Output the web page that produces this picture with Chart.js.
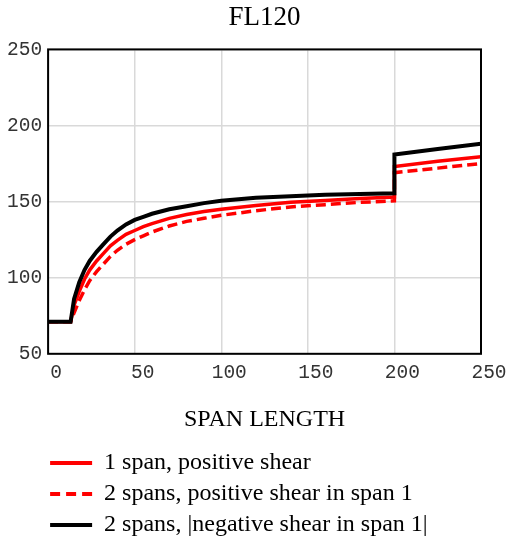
<!DOCTYPE html>
<html>
<head>
<meta charset="utf-8">
<script src="https://cdn.jsdelivr.net/npm/chart.js@4/dist/chart.umd.min.js"></script>
<style>
  html, body { margin: 0; padding: 0; background: #fff; }
  #wrap { width: 506px; height: 542px; }
</style>
</head>
<body>
<div id="wrap"><canvas id="c"></canvas></div>
<script>
// span length (x), shared by all three curves
const spanLength = [0, 5, 10, 13, 15, 18, 21, 24, 28, 32, 36, 40, 45, 50, 55, 60, 70, 80, 90, 100, 120, 140, 160, 180, 200, 200, 225, 250];

const oneSpanPos =  [71, 71, 71, 71, 82, 91, 99, 105, 111, 116, 121, 124.5, 128.5, 131, 133.5, 135.5, 139, 141.5, 143.5, 145, 147.5, 149.5, 150.8, 152, 153, 173, 176.5, 179.5];
const twoSpanPos =  [71, 71, 71, 71, 77, 85, 92, 98, 104, 109, 114, 118, 122, 125, 127.5, 130, 134, 137, 139, 141, 144, 146.5, 148, 149.5, 150.5, 169, 172, 175];
const twoSpanNeg =  [71, 71, 71, 71, 86, 97, 105, 111, 117, 122, 127, 131, 135, 138, 140, 142, 145, 147, 149, 150.5, 152.5, 153.5, 154.5, 155, 155.5, 181, 184.5, 188];

const seriesNames = ['1 span, positive shear', '2 spans, positive shear in span 1', '2 spans, |negative shear in span 1|'];
const xTicks = [0, 50, 100, 150, 200, 250];
const yTicks = [50, 100, 150, 200, 250];

const pts = ys => ys.map((y, i) => ({ x: spanLength[i], y: y }));

// box round the plot area, legend nudged to line up with the reference
const frame = {
    id: 'frame',
    afterLayout(chart) {
        const lg = chart.legend;
        lg.left -= 5; lg.right -= 5;
        lg.top += 5; lg.bottom += 5;
    },
    afterDatasetsDraw(chart) {
        const a = chart.chartArea, ctx = chart.ctx;
        ctx.save();
        ctx.strokeStyle = '#000';
        ctx.lineWidth = 2;
        ctx.strokeRect(a.left, a.top, a.right - a.left, a.bottom - a.top);
        ctx.restore();
    }
};

const serif = "'Liberation Serif', 'Times New Roman', serif";
const mono = "'Liberation Mono', 'Courier New', monospace";

new Chart(document.getElementById('c'), {
    type: 'line',
    data: {
        datasets: [
            { label: seriesNames[0], data: pts(oneSpanPos), borderColor: '#ff0000', backgroundColor: '#ff0000', borderWidth: 3.5, order: 1 },
            { label: seriesNames[1], data: pts(twoSpanPos), borderColor: '#ff0000', backgroundColor: '#ff0000', borderWidth: 3.5, borderDash: [10, 5], order: 2 },
            { label: seriesNames[2], data: pts(twoSpanNeg), borderColor: '#000000', backgroundColor: '#000000', borderWidth: 4, order: 0 }
        ]
    },
    options: {
        responsive: true,
        maintainAspectRatio: false,
        animation: false,
        elements: { point: { radius: 0 }, line: { tension: 0 } },
        layout: { padding: { left: 1, right: 25, bottom: 0 } },
        plugins: {
            tooltip: { enabled: false },
            title: {
                display: true,
                fullSize: false,
                text: 'FL120',
                color: '#000',
                font: { family: serif, size: 27, weight: 'normal' },
                padding: { top: 2, bottom: 15 }
            },
            legend: {
                position: 'bottom',
                align: 'start',
                fullSize: false,
                labels: {
                    color: '#000',
                    font: { family: serif, size: 24 },
                    usePointStyle: true,
                    pointStyle: 'line',
                    pointStyleWidth: 42,
                    boxHeight: 20,
                    padding: 7,
                    sort: (a, b) => a.datasetIndex - b.datasetIndex,
                    generateLabels(chart) {
                        const items = Chart.defaults.plugins.legend.labels.generateLabels(chart);
                        items.forEach(it => {
                            const ds = chart.data.datasets[it.datasetIndex];
                            it.lineDash = ds.borderDash ? [10, 6] : [];
                            it.lineWidth = 4;
                        });
                        return items;
                    }
                }
            }
        },
        scales: {
            x: {
                type: 'linear',
                min: 0,
                max: 250,
                afterBuildTicks: axis => { axis.ticks = xTicks.map(v => ({ value: v })); },
                ticks: { color: '#333', font: { family: mono, size: 19.5 }, labelOffset: 8, padding: 7 },
                grid: { color: '#d9d9d9', lineWidth: 1.5, drawTicks: false },
                border: { display: false },
                title: {
                    display: true,
                    text: 'SPAN LENGTH',
                    color: '#000',
                    font: { family: serif, size: 24 },
                    padding: { top: 14, bottom: 5 }
                }
            },
            y: {
                min: 50,
                max: 250,
                afterBuildTicks: axis => { axis.ticks = yTicks.map(v => ({ value: v })); },
                ticks: { color: '#333', font: { family: mono, size: 19.5 }, padding: 6 },
                grid: { color: '#d9d9d9', lineWidth: 1.5, drawTicks: false },
                border: { display: false }
            }
        }
    },
    plugins: [frame]
});
</script>
</body>
</html>
